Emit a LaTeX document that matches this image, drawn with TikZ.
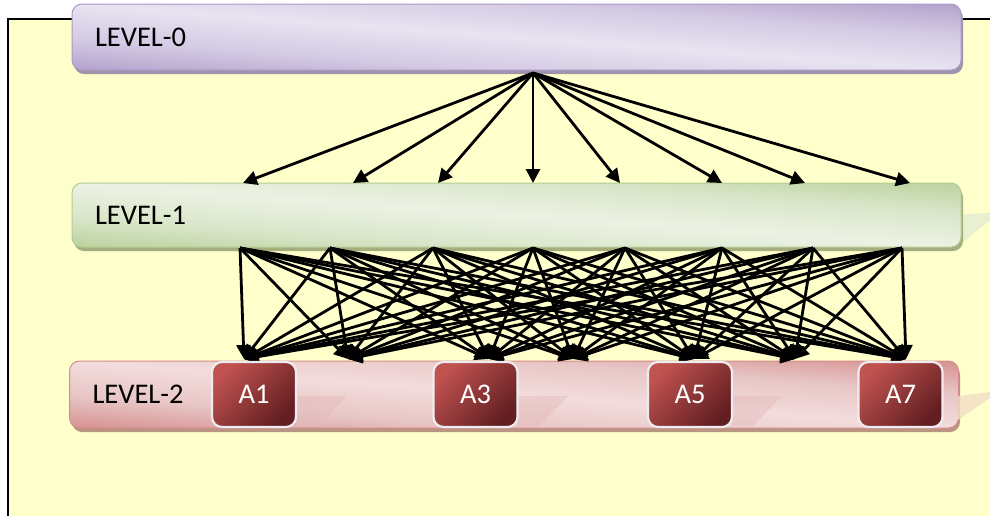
\documentclass[tikz,border=0pt]{standalone}
\usepackage{fontspec}
\setmainfont{Carlito}
\usetikzlibrary{arrows.meta}
\definecolor{panel}{RGB}{255,255,204}
\definecolor{lzd}{RGB}{176,157,201}
\definecolor{lzm}{RGB}{212,203,228}
\definecolor{lzl}{RGB}{232,227,241}
\definecolor{lzb}{RGB}{172,152,198}
\definecolor{lzsh}{RGB}{160,148,170}
\definecolor{lod}{RGB}{184,207,152}
\definecolor{lom}{RGB}{218,231,203}
\definecolor{lol}{RGB}{236,242,227}
\definecolor{lob}{RGB}{180,204,148}
\definecolor{losh}{RGB}{165,175,125}
\definecolor{ltd}{RGB}{212,138,138}
\definecolor{ltm}{RGB}{232,198,198}
\definecolor{ltl}{RGB}{243,220,220}
\definecolor{ltb}{RGB}{212,138,138}
\definecolor{ltsh}{RGB}{185,150,130}
\definecolor{ad}{RGB}{98,30,33}
\definecolor{al}{RGB}{192,82,80}
\definecolor{aborder}{RGB}{236,236,242}
\definecolor{reflp}{RGB}{228,188,188}
\definecolor{refly}{RGB}{242,222,196}
\definecolor{reflg}{RGB}{232,240,208}
\pgfdeclareverticalshading{shzero}{100bp}{color(0bp)=(lzd); color(25bp)=(lzd); color(38bp)=(lzm); color(50bp)=(lzl); color(62bp)=(lzm); color(75bp)=(lzd); color(100bp)=(lzd)}
\pgfdeclareverticalshading{shone}{100bp}{color(0bp)=(lod); color(25bp)=(lod); color(38bp)=(lom); color(50bp)=(lol); color(62bp)=(lom); color(75bp)=(lod); color(100bp)=(lod)}
\pgfdeclareverticalshading{shtwo}{100bp}{color(0bp)=(ltd); color(25bp)=(ltd); color(38bp)=(ltm); color(50bp)=(ltl); color(62bp)=(ltm); color(75bp)=(ltd); color(100bp)=(ltd)}
\pgfdeclareverticalshading{sha}{100bp}{color(0bp)=(ad); color(25bp)=(ad); color(75bp)=(al); color(100bp)=(al)}
\newcommand{\glossfill}[5]{%
  \pgfmathsetmacro\gcx{(#1+#3)/2}%
  \pgfmathsetmacro\gcy{(#2+#4)/2}%
  \pgfmathsetmacro\ghw{(#3-#1)/2+4}%
  \pgfmathsetmacro\ghh{(#4-#2)+4}%
  \pgfmathsetmacro\gsl{-(#4-#2)/(#3-#1)}%
  \begin{scope}
    \clip[rounded corners=10pt] (#1,#2) rectangle (#3,#4);
    \begin{scope}[transform canvas={shift={(\gcx,\gcy)}, yslant=\gsl}]
      \shade[shading=#5] (-\ghw,-\ghh) rectangle (\ghw,\ghh);
    \end{scope}
  \end{scope}}
\tikzset{
  levelbox/.style={rounded corners=10pt, line width=1pt, minimum width=889pt,
    text width=843pt, align=left, inner xsep=23pt, inner ysep=0pt,
    font=\fontsize{28.5}{30}\selectfont, text=black},
  abox/.style={rounded corners=10pt, draw=aborder, line width=2.2pt, shading=sha,
    shading angle=45, minimum width=84pt, minimum height=65pt, inner sep=0pt,
    font=\fontsize{28.5}{30}\selectfont, text=white},
  arr/.style={line width=2.8pt, -{Triangle[length=14pt,width=14pt]}},
}
\begin{document}
\begin{tikzpicture}[x=1pt,y=-1pt]
\useasboundingbox (0,0) rectangle (990,515);
% panel
\fill[panel] (8,19) rectangle (1000,530);
\draw[line width=2pt] (8,530) -- (8,19) -- (1000,19);
% LEVEL-0
\fill[lzsh, rounded corners=10pt] (74,8) rectangle (963,74);
\glossfill{72}{4}{961}{70}{shzero}
\node[levelbox, draw=lzb, minimum height=66pt] (L0) at (516.5,37) {LEVEL-0};
% LEVEL-1 with its faint reflection
\fill[reflg] (958,215) -- (1000,212) -- (962,243) -- (958,243) -- cycle;
\fill[losh, rounded corners=10pt] (74,187) rectangle (963,251);
\glossfill{72}{183}{961}{247}{shone}
\node[levelbox, draw=lob, minimum height=64pt] (L1) at (516.5,215) {LEVEL-1};
% arrows level 0 -> level 1
\coordinate (z0) at (533,73);
\foreach \x [count=\i] in {243,353,438,533,620,722,805,910}
  \coordinate (t\i) at (\x,183);
\foreach \i in {1,...,8}
  \draw[arr] (z0) -- (t\i);
% LEVEL-2
\fill[ltsh, rounded corners=10pt] (72,365) rectangle (960,432);
\glossfill{70}{361}{958}{428}{shtwo}
\node[levelbox, draw=ltb, minimum height=67pt, inner xsep=22pt] (L2) at (514,394.5) {LEVEL-2};
% arrows level 1 -> level 2
\foreach \x [count=\i] in {240,330,433,533,625,722,813,902}
  \coordinate (s\i) at (\x,248);
\foreach \x [count=\j] in {244,348,489,573,694,795,906}
  \coordinate (u\j) at (\x,359);
\foreach \i in {1,...,8}
  \foreach \j in {1,...,7}
    \draw[arr] (s\i) -- (u\j);
% faint reflections
\fill[reflp, opacity=0.5] (296,396) -- (347,396) -- (318,426) -- (296,426) -- cycle;
\fill[reflp, opacity=0.5] (517,396) -- (568,396) -- (539,426) -- (517,426) -- cycle;
\fill[reflp, opacity=0.5] (732,396) -- (782,396) -- (753,426) -- (732,426) -- cycle;
\fill[refly, opacity=0.8] (958,396) -- (1000,391) -- (958,420) -- cycle;
% A boxes
\node[abox] (A1) at (254,394.5) {A1};
\node[abox] (A3) at (475.5,394.5) {A3};
\node[abox] (A5) at (690,394.5) {A5};
\node[abox] (A7) at (900.5,394.5) {A7};
\end{tikzpicture}
\end{document}
